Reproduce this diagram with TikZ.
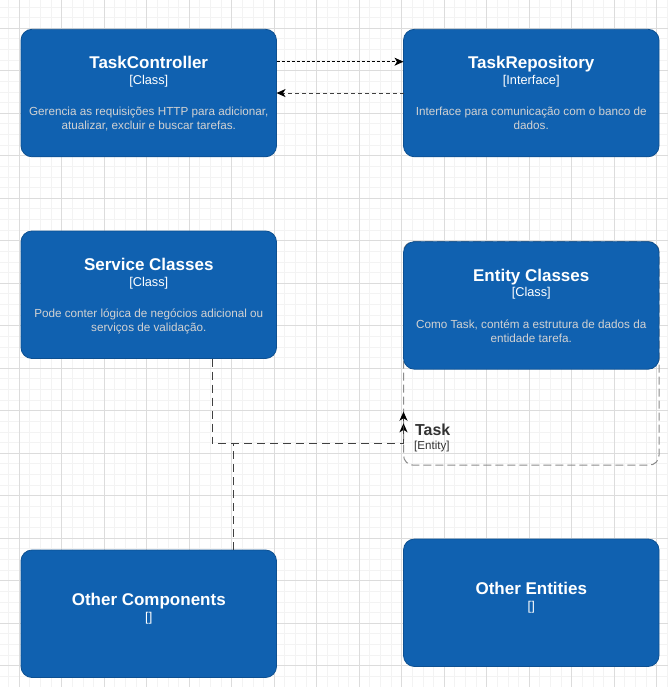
\documentclass[tikz,border=0pt]{standalone}
\usepackage{fontspec}
\setmainfont{Liberation Sans}
\usetikzlibrary{arrows.meta}
\definecolor{c4fill}{HTML}{1061B0}
\definecolor{c4stroke}{HTML}{0D5091}
\definecolor{descgray}{HTML}{D2D2D2}
\definecolor{gridminor}{RGB}{243,243,243}
\definecolor{gridmajor}{RGB}{220,220,220}
\definecolor{linegray}{HTML}{404040}
\definecolor{bndgray}{HTML}{8C8C8C}
\definecolor{labelgray}{HTML}{333333}
\begin{document}
\begin{tikzpicture}[x=1pt,y=-1pt,
  c4box/.style={draw=c4stroke, fill=c4fill, rounded corners=11pt, line width=0.8pt,
    minimum width=255.5pt, minimum height=127.5pt, inner sep=0pt, outer sep=0pt, anchor=north west},
  bnd/.style={draw=bndgray, dash pattern=on 8pt off 4pt, rounded corners=10pt, line width=1pt,
    minimum width=255.5pt, minimum height=223.5pt, inner sep=0pt, outer sep=0pt, anchor=north west},
  title/.style={text=white, font=\fontsize{17}{20}\selectfont\bfseries, anchor=base, inner sep=0pt},
  ctype/.style={text=white, font=\fontsize{12.75}{15}\selectfont, anchor=base, inner sep=0pt},
  desc/.style={text=descgray, font=\fontsize{11.7}{14}\selectfont, anchor=base, inner sep=0pt},
  blabel/.style={text=labelgray, font=\fontsize{15.9}{18}\selectfont\bfseries, anchor=base west, inner sep=0pt},
  btype/.style={text=labelgray, font=\fontsize{11.6}{14}\selectfont, anchor=base west, inner sep=0pt},
  fwdarrow/.style={draw=black, line width=1pt, dash pattern=on 3pt off 2pt,
    -{Stealth[length=9pt,width=8pt,inset=2.5pt,black]}},
  retarrow/.style={draw=linegray, line width=1pt, dash pattern=on 4pt off 3pt,
    -{Stealth[length=9pt,width=8pt,inset=2.5pt,black]}},
  relarrow/.style={draw=linegray, line width=1.4pt, dash pattern=on 8pt off 5pt,
    -{Stealth[length=9pt,width=8pt,inset=2.5pt,black]}}
]
\useasboundingbox (0,0) rectangle (668,687);
\fill[white] (0,0) rectangle (668,687);
% grid
\foreach \k in {-1,...,61} {
  \pgfmathsetmacro\xx{19.3+\k*10.625}
  \draw[gridminor, line width=1pt] (\xx,0) -- (\xx,687);
}
\foreach \k in {-2,...,61} {
  \pgfmathsetmacro\yy{28.3+\k*10.625}
  \draw[gridminor, line width=1pt] (0,\yy) -- (668,\yy);
}
\foreach \k in {0,...,15} {
  \pgfmathsetmacro\xx{19.3+\k*42.5}
  \draw[gridmajor, line width=1pt] (\xx,0) -- (\xx,687);
  \pgfmathsetmacro\yy{28.3+\k*42.5}
  \draw[gridmajor, line width=1pt] (0,\yy) -- (668,\yy);
}
% boundary
\node[bnd] (ent) at (403.5,241.7) {};
% boxes
\node[c4box] (tc) at (21,29.3) {};
\node[c4box] (tr) at (403.5,29.3) {};
\node[c4box] (sc) at (21,231) {};
\node[c4box] (ec) at (403.5,241.7) {};
\node[c4box] (oc) at (21,550) {};
\node[c4box] (oe) at (403.5,539) {};
% connectors
\draw[fwdarrow] ([yshift=31.35pt]tc.east) -- ([yshift=31.35pt]tr.west);
\draw[retarrow] (tr.west) -- (tc.east);
\draw[relarrow] ([xshift=84.55pt]oc.north) |- ([yshift=-90.25pt]ent.west) -- ([yshift=-69.85pt]ent.west);
\draw[relarrow] ([xshift=63.55pt]sc.south) |- ([yshift=-90.25pt]ent.west) -- ([yshift=-58.25pt]ent.west);
% texts
\node[title] (tct) at (148.75,68.3) {TaskController};
\node[ctype] (tcc) at (148.75,84.2) {[Class]};
\node[desc] (tcd1) at (148.75,115.3) {Gerencia as requisições HTTP para adicionar,};
\node[desc] (tcd2) at (148.75,129.8) {atualizar, excluir e buscar tarefas.};

\node[title] (trt) at (531.25,68.3) {TaskRepository};
\node[ctype] (trc) at (531.25,84.2) {[Interface]};
\node[desc] (trd1) at (531.25,115.3) {Interface para comunicação com o banco de};
\node[desc] (trd2) at (531.25,129.8) {dados.};

\node[title] (sct) at (148.75,270.3) {Service Classes};
\node[ctype] (scc) at (148.75,286.2) {[Class]};
\node[desc] (scd1) at (148.75,317.3) {Pode conter lógica de negócios adicional ou};
\node[desc] (scd2) at (148.75,331.8) {serviços de validação.};

\node[title] (ect) at (531.25,281) {Entity Classes};
\node[ctype] (ecc) at (531.25,296.9) {[Class]};
\node[desc] (ecd1) at (531.25,328) {Como Task, contém a estrutura de dados da};
\node[desc] (ecd2) at (531.25,342.5) {entidade tarefa.};

\node[title] (oct) at (148.75,605) {Other Components};
\node[ctype] (occ) at (148.75,621.5) {[]};

\node[title] (oet) at (531.25,594) {Other Entities};
\node[ctype] (oec) at (531.25,610.8) {[]};

\node[blabel] (entl) at (415,435) {Task};
\node[btype] (entt) at (414,449) {[Entity]};
\end{tikzpicture}
\end{document}
